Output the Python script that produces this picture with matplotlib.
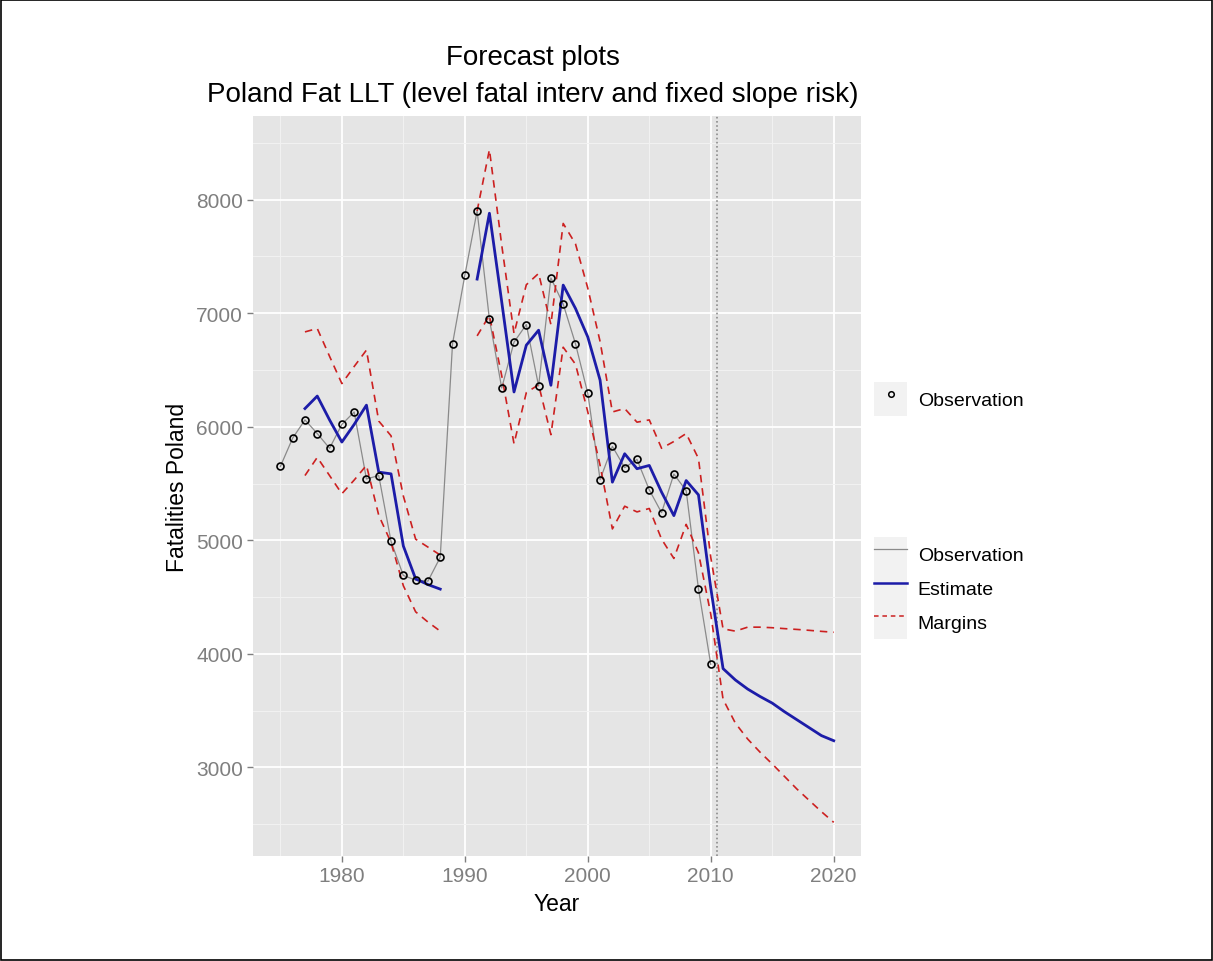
import matplotlib
matplotlib.use("Agg")
import matplotlib.pyplot as plt
from matplotlib.lines import Line2D
from matplotlib.patches import Rectangle
from matplotlib.legend_handler import HandlerTuple
from matplotlib.ticker import MultipleLocator

plt.rcParams['font.family'] = ['Liberation Sans', 'DejaVu Sans']

# observed fatalities
obs_years = list(range(1975, 2011))
obs_vals = [5650, 5900, 6060, 5940, 5810, 6020, 6130, 5540, 5570, 4990,
            4690, 4650, 4640, 4850, 6730, 7333, 7901, 6946, 6341, 6744,
            6900, 6359, 7310, 7080, 6730, 6294, 5534, 5827, 5640, 5712,
            5444, 5243, 5583, 5437, 4572, 3907]

# model estimate and margins, first part
years1 = list(range(1977, 1989))
est1 = [6160, 6270, 6060, 5865, 6020, 6190, 5600, 5585, 4950, 4660, 4610, 4570]
upper1 = [6835, 6865, 6620, 6380, 6530, 6675, 6050, 5920, 5390, 5010, 4940, 4870]
lower1 = [5570, 5730, 5570, 5410, 5530, 5660, 5220, 4980, 4600, 4370, 4280, 4200]

# second part including the forecast up to 2020
years2 = list(range(1991, 2021))
est2 = [7300, 7880, 7100, 6306, 6718, 6850, 6365, 7247, 7041, 6790,
        6410, 5512, 5762, 5630, 5659, 5424, 5217, 5526, 5400, 4580,
        3870, 3770, 3690, 3625, 3566, 3490, 3420, 3350, 3280, 3235]
upper2 = [7900, 8440, 7600, 6820, 7250, 7350, 6900, 7790, 7610, 7220,
          6750, 6130, 6160, 6040, 6060, 5810, 5870, 5940, 5720, 4850,
          4220, 4200, 4235, 4235, 4230, 4222, 4215, 4207, 4198, 4190]
lower2 = [6800, 6980, 6450, 5850, 6300, 6370, 5930, 6700, 6550, 6130,
          5660, 5100, 5300, 5250, 5280, 5010, 4840, 5140, 4890, 4350,
          3600, 3390, 3250, 3135, 3030, 2920, 2810, 2710, 2610, 2516]

forecast_start = 2010.5

col_obs = '#8a8a8a'
col_est = '#1c1ca8'
col_mar = '#cc2020'
dash = (0, (4.5, 3.5))

fig = plt.figure(figsize=(12.13, 9.62), dpi=100)
ax = fig.add_axes([252.7 / 1213, 1 - 857 / 962, (861.4 - 252.7) / 1213, (857 - 117) / 962])
ax.set_facecolor('#E5E5E5')
for s in ax.spines.values():
    s.set_visible(False)

ax.xaxis.set_major_locator(MultipleLocator(10))
ax.xaxis.set_minor_locator(MultipleLocator(5))
ax.yaxis.set_major_locator(MultipleLocator(1000))
ax.yaxis.set_minor_locator(MultipleLocator(500))
ax.grid(which='major', color='white', linewidth=1.3)
ax.grid(which='minor', color='#F2F2F2', linewidth=0.7)
ax.set_axisbelow(True)
ax.tick_params(which='major', colors='#7F7F7F', labelsize=15, length=4.5, width=1, pad=2.5)
ax.tick_params(which='minor', length=0)

ax.axvline(forecast_start, color='#8c8c8c', linestyle=(0, (1, 1.5)), linewidth=1.2)

ax.plot(obs_years, obs_vals, color=col_obs, linewidth=0.9)
for yrs, e, u, l in [(years1, est1, upper1, lower1), (years2, est2, upper2, lower2)]:
    ax.plot(yrs, u, color=col_mar, linewidth=1.2, linestyle=dash)
    ax.plot(yrs, l, color=col_mar, linewidth=1.2, linestyle=dash)
    ax.plot(yrs, e, color=col_est, linewidth=2.0)
ax.plot(obs_years, obs_vals, linestyle='none', marker='o', markersize=5,
        markerfacecolor='none', markeredgecolor='black', markeredgewidth=1.2)

x0, x1 = min(obs_years), max(years2)
ax.set_xlim(x0 - 0.05 * (x1 - x0), x1 + 0.05 * (x1 - x0))
all_y = obs_vals + upper1 + lower1 + upper2 + lower2
y0, y1 = min(all_y), max(all_y)
ax.set_ylim(y0 - 0.05 * (y1 - y0), y1 + 0.05 * (y1 - y0))

ax.set_xlabel('Year', fontsize=16.5, labelpad=5)
ax.set_ylabel('Fatalities Poland', fontsize=16.5, labelpad=5)

fig.text(533 / 1213, 1 - 58 / 962, 'Forecast plots', fontsize=20, ha='center', va='center')
fig.text(533 / 1213, 1 - 95 / 962, 'Poland Fat LLT (level fatal interv and fixed slope risk)',
         fontsize=20, ha='center', va='center')

# legends, ggplot style with grey key boxes
def keybox():
    return Rectangle((0, 0), 1, 1, facecolor='#F2F2F2', edgecolor='none')

legend_kw = dict(loc='center left', frameon=False, fontsize=14, handlelength=1.7,
                 handleheight=2.3, handletextpad=0.55, labelspacing=0.0,
                 borderpad=0, borderaxespad=0,
                 handler_map={tuple: HandlerTuple(ndivide=1, pad=0)})

h_pt = (keybox(), Line2D([], [], linestyle='none', marker='o', markersize=4,
                         markerfacecolor='none', markeredgecolor='black', markeredgewidth=1.1))
fig.legend([h_pt], ['Observation'], bbox_to_anchor=(874 / 1213, 1 - 400 / 962), **legend_kw)

h_lines = [(keybox(), Line2D([], [], color=col_obs, linewidth=0.9)),
           (keybox(), Line2D([], [], color=col_est, linewidth=1.8)),
           (keybox(), Line2D([], [], color=col_mar, linewidth=1.1, linestyle=(0, (3, 2.5))))]
fig.legend(h_lines, ['Observation', 'Estimate', 'Margins'],
           bbox_to_anchor=(874 / 1213, 1 - 589 / 962), **legend_kw)

fig.add_artist(Rectangle((0.001, 0.001), 0.998, 0.998, transform=fig.transFigure,
                         fill=False, edgecolor='black', linewidth=1.2))

fig.savefig('out.png', dpi=100, facecolor='white')
